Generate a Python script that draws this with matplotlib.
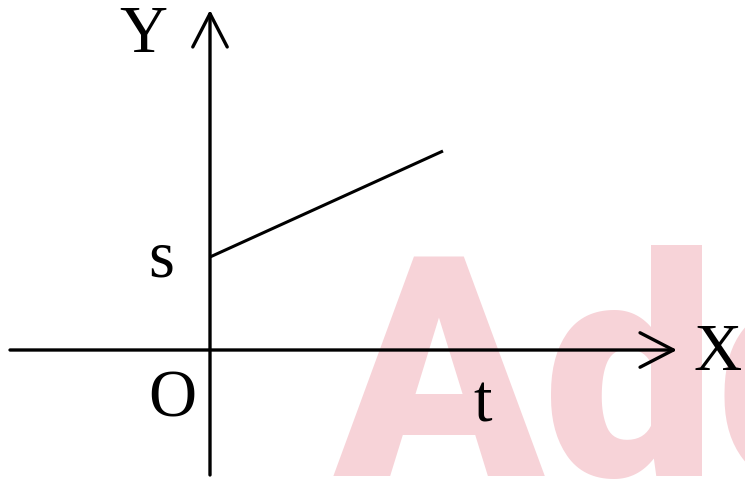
import matplotlib.pyplot as plt

# data: straight line s -> end point (units of 100 px of the original picture)
t_vals = [0.0, 2.33]
pos_vals = [0.93, 1.99]

axis_labels = ['Y', 'X']
point_labels = ['s', 'O', 't']

fig = plt.figure(figsize=(7.45, 4.84), dpi=100)
ax = fig.add_axes([0, 0, 1, 1])
ax.set_xlim(-2.10, 5.35)
ax.set_ylim(-1.34, 3.50)
ax.axis('off')

# watermark behind everything
ax.text(1.24, 1.05, 'Add', fontsize=222, fontweight='heavy', family=['Roboto', 'DejaVu Sans'],
        color='#f7d3d8', ha='left', va='top', zorder=0)

# axes with open arrow heads
arrow = dict(arrowstyle='->, head_length=1.2, head_width=0.62', color='black',
             lw=2.4, mutation_scale=20, shrinkA=0, shrinkB=0)
ax.annotate('', xy=(0, 3.40), xytext=(0, -1.25), arrowprops=arrow, zorder=2)
ax.annotate('', xy=(4.67, 0), xytext=(-2.00, 0), arrowprops=arrow, zorder=2)

# the line
ax.plot(t_vals, pos_vals, color='black', lw=2.2, solid_capstyle='butt', zorder=3)

serif = 'Liberation Serif'
ax.text(-0.67, 3.14, axis_labels[0], fontsize=48, family=serif, ha='center', va='center')
ax.text(5.08, -0.03, axis_labels[1], fontsize=48, family=serif, ha='center', va='center')
ax.text(-0.49, 0.90, point_labels[0], fontsize=48, family=serif, ha='center', va='center')
ax.text(-0.38, -0.50, point_labels[1], fontsize=48, family=serif, ha='center', va='center')
ax.text(2.73, -0.55, point_labels[2], fontsize=48, family=serif, ha='center', va='center')

fig.savefig('out.png', dpi=100)
